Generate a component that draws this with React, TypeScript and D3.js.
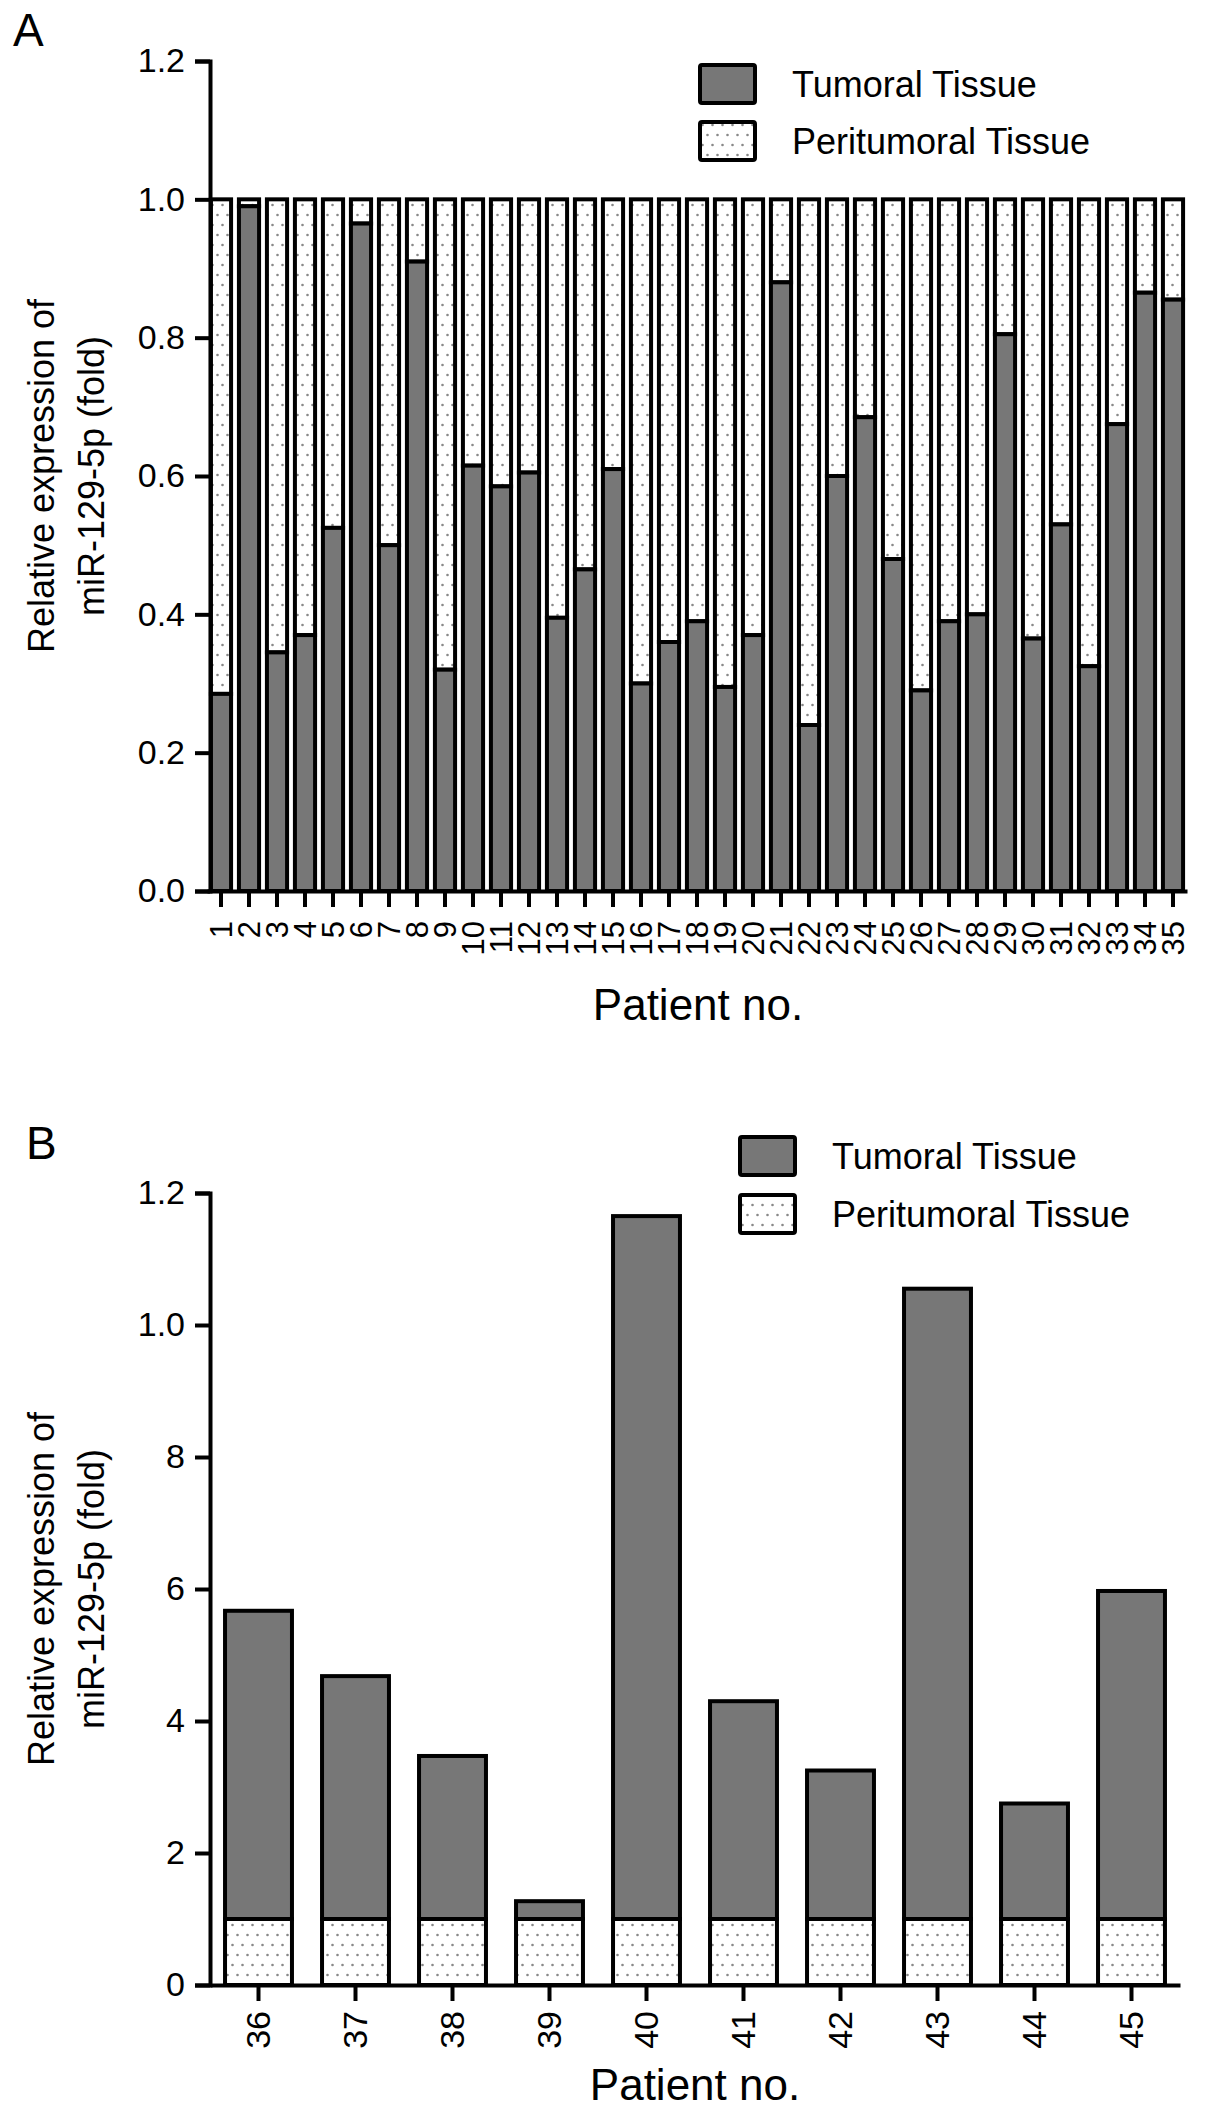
import { useEffect, useRef } from 'react';
import * as d3 from 'd3';

// Panel A: patients 1-35, tumoral fraction (peritumoral fills up to 1.0)
const patientsA = ['1', '2', '3', '4', '5', '6', '7', '8', '9', '10', '11', '12', '13', '14', '15', '16', '17', '18',
  '19', '20', '21', '22', '23', '24', '25', '26', '27', '28', '29', '30', '31', '32', '33', '34', '35'];
const tumorA = [0.285, 0.99, 0.345, 0.37, 0.525, 0.965, 0.5, 0.91, 0.32, 0.615, 0.585, 0.605, 0.395, 0.465, 0.61,
  0.3, 0.36, 0.39, 0.295, 0.37, 0.88, 0.24, 0.6, 0.685, 0.48, 0.29, 0.39, 0.4, 0.805, 0.365, 0.53, 0.325, 0.675,
  0.865, 0.855];
const yTicksA = [0, 0.2, 0.4, 0.6, 0.8, 1.0, 1.2];

// Panel B: patients 36-45, peritumoral = 1, tumoral total height
const patientsB = ['36', '37', '38', '39', '40', '41', '42', '43', '44', '45'];
const tumorB = [5.67, 4.68, 3.47, 1.27, 11.65, 4.3, 3.25, 10.55, 2.75, 5.97];
const periB = [1, 1, 1, 1, 1, 1, 1, 1, 1, 1];
const yTicksB = [0, 2, 4, 6, 8, 10, 12];
const yTickLabelsB = ['0', '2', '4', '6', '8', '1.0', '1.2'];

const legendLabels = ['Tumoral Tissue', 'Peritumoral Tissue'];

const FONT = '"Liberation Sans", Arial, sans-serif';
const GRAY = '#777777';

export default function App() {
  const svgRef = useRef<SVGSVGElement>(null);

  useEffect(() => {
    if (!svgRef.current) return;
    const svg = d3.select(svgRef.current);
    svg.selectAll('*').remove();

    const defs = svg.append('defs');
    const pat = defs.append('pattern')
      .attr('id', 'dots')
      .attr('patternUnits', 'userSpaceOnUse')
      .attr('width', 10)
      .attr('height', 20);
    pat.append('rect').attr('width', 10).attr('height', 20).attr('fill', '#fff');
    pat.append('circle').attr('cx', 2.5).attr('cy', 5).attr('r', 1.3).attr('fill', '#888');
    pat.append('circle').attr('cx', 7.5).attr('cy', 15).attr('r', 1.3).attr('fill', '#888');

    const styleAxis = (g: any, fontSize: number) => {
      g.selectAll('path.domain').attr('stroke', '#000').attr('stroke-width', 4);
      g.selectAll('.tick line').attr('stroke', '#000').attr('stroke-width', 4);
      g.selectAll('text').attr('fill', '#000').style('font-family', FONT).style('font-size', `${fontSize}px`);
    };

    const legend = (x0: number, y0: number, gap: number) => {
      const g = svg.append('g');
      legendLabels.forEach((lab, i) => {
        g.append('rect')
          .attr('x', x0).attr('y', y0 + i * gap)
          .attr('width', 55).attr('height', 38).attr('rx', 2)
          .attr('fill', i === 0 ? GRAY : 'url(#dots)')
          .attr('stroke', '#000').attr('stroke-width', 4);
        g.append('text')
          .attr('x', x0 + 92).attr('y', y0 + i * gap + 19)
          .attr('dy', '0.35em')
          .style('font-family', FONT).style('font-size', '36px')
          .text(lab);
      });
    };

    const yTitle = (cy: number) => {
      const lines = ['Relative expression of', 'miR-129-5p (fold)'];
      lines.forEach((t, i) => {
        svg.append('text')
          .attr('transform', `translate(${54 + i * 50},${cy}) rotate(-90)`)
          .attr('text-anchor', 'middle')
          .style('font-family', FONT).style('font-size', '36px')
          .text(t);
      });
    };

    // ---------- Panel A ----------
    const yA = d3.scaleLinear().domain([0, 1.2]).range([891, 61]);
    const xA = d3.scaleBand().domain(patientsA).range([207, 1187]).paddingInner(0.28).paddingOuter(0.14);

    svg.append('text').attr('x', 13).attr('y', 46)
      .style('font-family', FONT).style('font-size', '46px').text('A');

    const barsA = svg.append('g');
    patientsA.forEach((p, i) => {
      const t = tumorA[i];
      barsA.append('rect')
        .attr('x', xA(p) as number).attr('width', xA.bandwidth())
        .attr('y', yA(1)).attr('height', yA(t) - yA(1))
        .attr('fill', 'url(#dots)').attr('stroke', '#000').attr('stroke-width', 4);
      barsA.append('rect')
        .attr('x', xA(p) as number).attr('width', xA.bandwidth())
        .attr('y', yA(t)).attr('height', yA(0) - yA(t))
        .attr('fill', GRAY).attr('stroke', '#000').attr('stroke-width', 4);
    });

    const gyA = svg.append('g').attr('transform', 'translate(210,0)')
      .call(d3.axisLeft(yA).tickValues(yTicksA).tickFormat(d3.format('.1f')).tickSize(15).tickPadding(10));
    styleAxis(gyA, 34);

    const gxA = svg.append('g').attr('transform', `translate(0,${yA(0)})`)
      .call(d3.axisBottom(xA).tickSize(16).tickSizeOuter(0));
    styleAxis(gxA, 31);
    gxA.selectAll('.tick text')
      .attr('transform', 'rotate(-90)')
      .attr('text-anchor', 'end')
      .attr('x', -30).attr('y', 0).attr('dy', '0.35em');

    svg.append('text').attr('x', 698).attr('y', 1020).attr('text-anchor', 'middle')
      .style('font-family', FONT).style('font-size', '44px').text('Patient no.');
    yTitle(476);
    legend(700, 65, 57);

    // ---------- Panel B ----------
    const yB = d3.scaleLinear().domain([0, 12]).range([1985, 1193]);
    const xB = d3.scaleBand().domain(patientsB).range([210, 1180]).paddingInner(0.31).paddingOuter(0.155);

    svg.append('text').attr('x', 26).attr('y', 1159)
      .style('font-family', FONT).style('font-size', '46px').text('B');

    const barsB = svg.append('g');
    patientsB.forEach((p, i) => {
      barsB.append('rect')
        .attr('x', xB(p) as number).attr('width', xB.bandwidth())
        .attr('y', yB(tumorB[i])).attr('height', yB(periB[i]) - yB(tumorB[i]))
        .attr('fill', GRAY).attr('stroke', '#000').attr('stroke-width', 4);
      barsB.append('rect')
        .attr('x', xB(p) as number).attr('width', xB.bandwidth())
        .attr('y', yB(periB[i])).attr('height', yB(0) - yB(periB[i]))
        .attr('fill', 'url(#dots)').attr('stroke', '#000').attr('stroke-width', 4);
    });

    const gyB = svg.append('g').attr('transform', 'translate(210,0)')
      .call(d3.axisLeft(yB).tickValues(yTicksB).tickFormat((_d, i) => yTickLabelsB[i]).tickSize(15).tickPadding(10));
    styleAxis(gyB, 34);

    const gxB = svg.append('g').attr('transform', `translate(0,${yB(0)})`)
      .call(d3.axisBottom(xB).tickSize(16).tickSizeOuter(0));
    styleAxis(gxB, 34);
    gxB.selectAll('.tick text')
      .attr('transform', 'rotate(-90)')
      .attr('text-anchor', 'end')
      .attr('x', -26).attr('y', 0).attr('dy', '0.35em');

    svg.append('text').attr('x', 695).attr('y', 2100).attr('text-anchor', 'middle')
      .style('font-family', FONT).style('font-size', '44px').text('Patient no.');
    yTitle(1589);
    legend(740, 1137, 58);
  }, []);

  return (
    <svg ref={svgRef} width={1205} height={2114}
      style={{ position: 'absolute', left: 0, top: 0, background: '#fff' }} />
  );
}
